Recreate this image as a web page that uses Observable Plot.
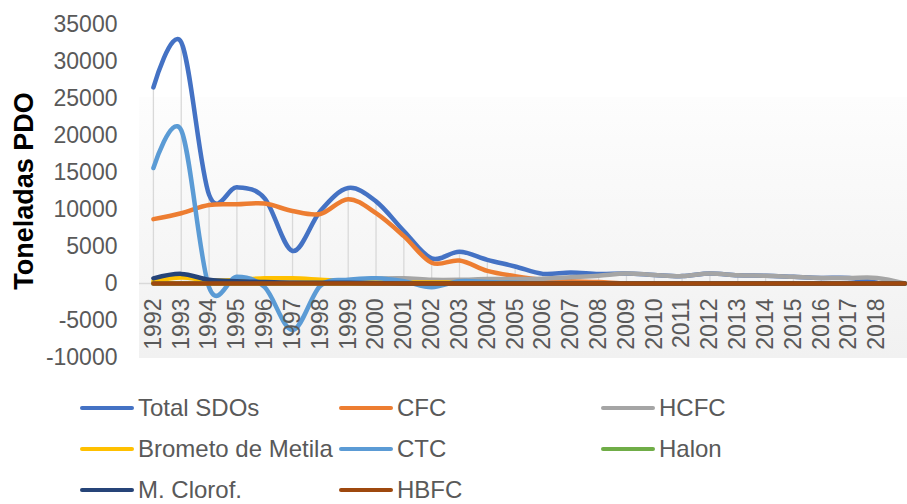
<!DOCTYPE html>
<html>
<head>
<meta charset="utf-8">
<script src="https://cdn.jsdelivr.net/npm/d3@7"></script>
<script src="https://cdn.jsdelivr.net/npm/@observablehq/plot@0.6"></script>
<style>
  body { margin: 0; background: #fff; font-family: "Liberation Sans", Arial, sans-serif; }
  #wrap { position: relative; width: 907px; height: 504px; overflow: hidden; background: #fff; }
  #bg { position: absolute; left: 139px; top: 97px; width: 768px; height: 261px;
        background: linear-gradient(to bottom, #fdfdfd, #f1f1f1); }
  #chart { position: absolute; left: 0; top: 0; }
  #ytitle { position: absolute; left: 24px; top: 191px; transform: translate(-50%, -50%) rotate(-90deg);
            font-weight: bold; font-size: 27px; color: #000; white-space: nowrap; }
  .item { position: absolute; display: flex; align-items: center; font-size: 24px; line-height: 26px; color: #595959;
          white-space: nowrap; transform: translateY(-50%); }
  .sw { width: 54px; height: 4px; border-radius: 2px; margin-right: 4px; }
</style>
</head>
<body>
<div id="wrap">
  <div id="bg"></div>
  <div id="chart"></div>
  <div id="ytitle">Toneladas PDO</div>
</div>
<script>
// ---- data ----
const years = [1992,1993,1994,1995,1996,1997,1998,1999,2000,2001,2002,2003,2004,2005,2006,2007,2008,2009,2010,2011,2012,2013,2014,2015,2016,2017,2018,2019];
const yearLabels = [1992,1993,1994,1995,1996,1997,1998,1999,2000,2001,2002,2003,2004,2005,2006,2007,2008,2009,2010,2011,2012,2013,2014,2015,2016,2017,2018];
const yTicks = [-10000,-5000,0,5000,10000,15000,20000,25000,30000,35000];

const totalSDOs = [26500,32600,12000,13000,11500,4400,9800,12900,11100,7100,3400,4300,3200,2300,1300,1500,1300,1350,1150,1000,1350,1100,1050,900,750,750,100,null];
const cfc       = [8700,9500,10600,10700,10800,9800,9400,11400,9500,6400,2800,3100,1700,1000,500,300,200,0,0,0,0,0,0,0,0,0,0,0];
const hcfc      = [0,50,100,150,200,250,300,450,650,700,500,500,600,600,650,850,1050,1350,1150,1000,1350,1100,1050,900,750,750,750,0];
const brometo   = [300,800,400,500,700,700,500,300,200,150,150,100,100,50,0,0,0,0,0,0,0,0,0,0,0,0,0,0];
const ctc       = [15600,20700,-500,900,-500,-6300,-300,500,700,300,-500,300,200,100,0,0,0,0,0,0,0,0,0,0,0,0,0,0];
const halon     = [0,0,0,0,0,0,0,0,0,0,0,0,0,0,0,0,0,0,0,0,0,0,0,0,0,0,0,0];
const mClorof   = [700,1300,500,300,200,100,100,100,50,0,0,0,0,0,0,0,0,0,0,0,0,0,0,0,0,0,0,0];
const hbfc      = [0,0,0,0,0,0,0,0,0,0,0,0,0,0,0,0,0,0,0,0,0,0,0,0,0,0,0,0];

const seriesNames  = ["Total SDOs","CFC","HCFC","Brometo de Metila","CTC","Halon","M. Clorof.","HBFC"];
const seriesValues = [totalSDOs, cfc, hcfc, brometo, ctc, halon, mClorof, hbfc];
const seriesColors = ["#4472C4","#ED7D31","#A5A5A5","#FFC000","#5B9BD5","#70AD47","#264478","#9E480E"];

// ---- tables ----
const rows = seriesNames.map((name, i) =>
  years.map((yr, j) => ({year: yr, value: seriesValues[i][j], series: name}))
    .filter(d => d.value != null));

const drop = yearLabels.map(yr => {
  const j = years.indexOf(yr);
  return {year: yr, max: d3.max(seriesValues, s => s[j])};
});

const marks = [
  Plot.ruleX(drop, {x: "year", y1: 0, y2: "max", stroke: "#d9d9d9", strokeWidth: 1.3}),
  Plot.ruleY([0], {stroke: "#d9d9d9", strokeWidth: 1.3}),
  ...rows.map((r, i) => Plot.line(r, {
    x: "year", y: "value", stroke: seriesColors[i], strokeWidth: 4.5,
    curve: "cardinal", tension: 0, strokeLinecap: "round", strokeLinejoin: "round"
  })),
  Plot.text(yearLabels, {
    x: d => d, y: () => 0, text: d => String(d), rotate: -90,
    textAnchor: "end", lineAnchor: "middle", dy: 15, fontSize: 23, fill: "#595959"
  })
];

const chart = Plot.plot({
  width: 907, height: 375,
  marginLeft: 139, marginRight: 0, marginTop: 24, marginBottom: 18,
  style: {background: "transparent", fontFamily: "'Liberation Sans', Arial, sans-serif", fontSize: "23px", color: "#595959", overflow: "visible"},
  x: {domain: [1991.5, 2019.1], axis: null},
  y: {domain: [-10000, 35000], ticks: yTicks, tickSize: 0, tickPadding: 22, label: null, tickFormat: d => String(d)},
  marks
});
document.getElementById("chart").appendChild(chart);

// ---- legend ----
const wrap = document.getElementById("wrap");
const colX = [80, 339, 601];
seriesNames.forEach((name, i) => {
  const item = document.createElement("div");
  item.className = "item";
  item.style.left = colX[i % 3] + "px";
  item.style.top = (408 + Math.floor(i / 3) * 41) + "px";
  const sw = document.createElement("span");
  sw.className = "sw";
  sw.style.background = seriesColors[i];
  const t = document.createElement("span");
  t.textContent = name;
  item.appendChild(sw);
  item.appendChild(t);
  wrap.appendChild(item);
});
</script>
</body>
</html>
